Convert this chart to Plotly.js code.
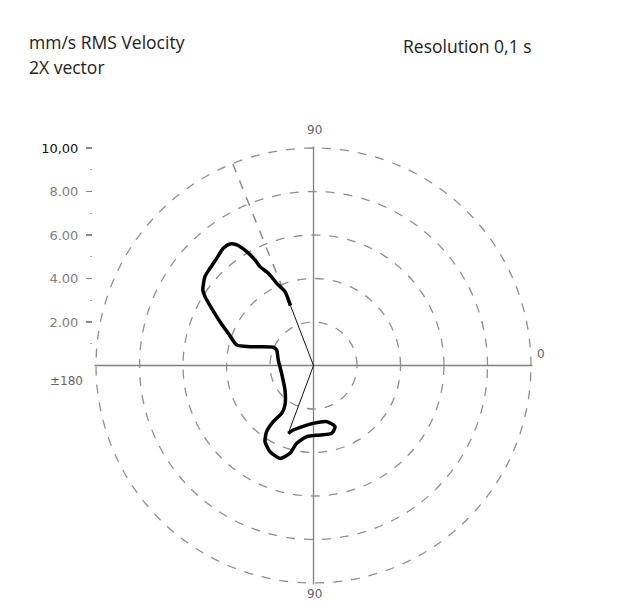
<!DOCTYPE html>
<html>
<head>
<meta charset="utf-8">
<script src="https://cdn.plot.ly/plotly-3.0.1.min.js"></script>
<style>html,body{margin:0;padding:0;background:#fff;}#chart{width:620px;height:603px;}</style>
</head>
<body>
<div id="chart"></div>
<script>
// Scale / tick data
const radialTicks = [2, 4, 6, 8, 10];
const radialTickText = ['2.00', '4.00', '6.00', '8.00', '<span style="color:#111">10,00</span>'];
const radialMinorTicks = [1, 3, 5, 7, 9];
const angleTicks = [0, 90, 180, 270];
const angleLabels = ['0', '90', '±180', '90'];

// 2X vector orbit (r in mm/s, theta in degrees)
const orbitR = [2.95, 3.64, 4.14, 4.72, 5.17, 5.55, 6.07, 6.57, 6.78, 6.80, 6.64, 6.53, 6.45, 6.16, 5.91, 5.37, 4.75, 4.19, 3.65, 3.04, 2.03, 1.84, 1.64, 1.51, 1.73, 2.24, 2.64, 3.18, 3.73, 4.15, 4.44, 4.54, 4.18, 3.66, 3.29, 3.21, 3.23, 2.98, 2.65, 2.66, 2.87, 3.11, 3.33];
const orbitTheta = [111, 111.1, 114.1, 116.1, 118.4, 119.0, 120.4, 122.5, 124.5, 127.6, 132.1, 136.8, 140.7, 145.7, 147.6, 150.7, 154.9, 159.3, 165.1, 163.5, 155.6, 157.2, 171.1, 193.8, 220.7, 234.2, 236.4, 234.4, 234.7, 237.5, 243.2, 250.2, 255.0, 257.8, 264.5, 275.3, 285.0, 289.4, 283.2, 269.8, 259.1, 252.6, 249.6];

// vector lines: start point -> origin -> end point
const vectorR = [2.95, 0, 3.33];
const vectorTheta = [111, 0, 249.6];

// direction pointer (dashed)
const pointerR = [2.95, 10];
const pointerTheta = [111.8, 111.8];

const traces = [
  {type: 'scatterpolar', r: pointerR, theta: pointerTheta, mode: 'lines',
   line: {color: '#8a8a8a', width: 1.5, dash: 'dash'}, hoverinfo: 'skip', showlegend: false},
  {type: 'scatterpolar', r: vectorR, theta: vectorTheta, mode: 'lines',
   line: {color: '#111', width: 1}, hoverinfo: 'skip', showlegend: false},
  {type: 'scatterpolar', r: orbitR, theta: orbitTheta, mode: 'lines',
   line: {color: '#000', width: 3.5, shape: 'spline', smoothing: 0.6}, showlegend: false},
  {type: 'scatter', x: [], y: [], xaxis: 'x', yaxis: 'y', showlegend: false, hoverinfo: 'skip'}
];

// angle label positions (paper px) around the dial
const angleLabelPos = [[541, 354], [314, 130], [66, 381], [314, 594]];
const angleAnnotations = angleLabels.map((t, i) => ({
  text: t, xref: 'paper', yref: 'paper',
  x: angleLabelPos[i][0] / 620, y: 1 - angleLabelPos[i][1] / 603,
  xanchor: 'center', yanchor: 'middle', showarrow: false,
  font: {size: 12, color: '#666', family: 'DejaVu Sans, sans-serif'}
}));

const gridCol = '#8f8f8f';
const titleFont = {size: 17.5, color: '#222', family: 'Open Sans, sans-serif'};
const layout = {
  width: 620, height: 603,
  margin: {l: 0, r: 0, t: 0, b: 0},
  paper_bgcolor: '#fff', plot_bgcolor: 'rgba(0,0,0,0)',
  showlegend: false,
  font: {family: 'Open Sans, sans-serif', color: '#555'},
  polar: {
    domain: {x: [94.5 / 620, 532.5 / 620], y: [1 - 584.5 / 603, 1 - 146.5 / 603]},
    bgcolor: 'rgba(0,0,0,0)',
    radialaxis: {range: [0, 10.07], tickvals: radialTicks, showticklabels: false, ticks: '',
      showline: false, gridcolor: gridCol, gridwidth: 1.3, griddash: 'dash'},
    angularaxis: {tickvals: angleTicks, showticklabels: false, ticks: '', showline: false,
      gridcolor: '#808080', gridwidth: 1.3, rotation: 0, direction: 'counterclockwise'}
  },
  xaxis: {domain: [0, 0.14], visible: false, range: [0, 1]},
  yaxis: {domain: [1 - 365.5 / 603, 1 - 148 / 603], range: [0, 10], anchor: 'free', position: 92 / 620,
    tickvals: radialTicks, ticktext: radialTickText, ticks: 'outside', ticklen: 6, tickwidth: 1.3,
    ticklabelstandoff: 5,
    tickcolor: '#888', showline: false, showgrid: false, zeroline: false,
    tickfont: {size: 13, color: '#808080', family: 'DejaVu Sans, sans-serif'},
    minor: {tickvals: radialMinorTicks, ticks: 'outside', ticklen: 2, tickcolor: '#aaa', showgrid: false}},
  annotations: [
    {text: 'mm/s RMS Velocity', xref: 'paper', yref: 'paper', x: 27 / 620, y: 1 - 42 / 603,
     xanchor: 'left', yanchor: 'middle', showarrow: false, font: titleFont},
    {text: '2X vector', xref: 'paper', yref: 'paper', x: 27 / 620, y: 1 - 67 / 603,
     xanchor: 'left', yanchor: 'middle', showarrow: false, font: titleFont},
    {text: 'Resolution 0,1 s', xref: 'paper', yref: 'paper', x: 401 / 620, y: 1 - 46 / 603,
     xanchor: 'left', yanchor: 'middle', showarrow: false, font: titleFont}
  ].concat(angleAnnotations)
};

Plotly.newPlot('chart', traces, layout, {staticPlot: true, displayModeBar: false});
</script>
</body>
</html>
